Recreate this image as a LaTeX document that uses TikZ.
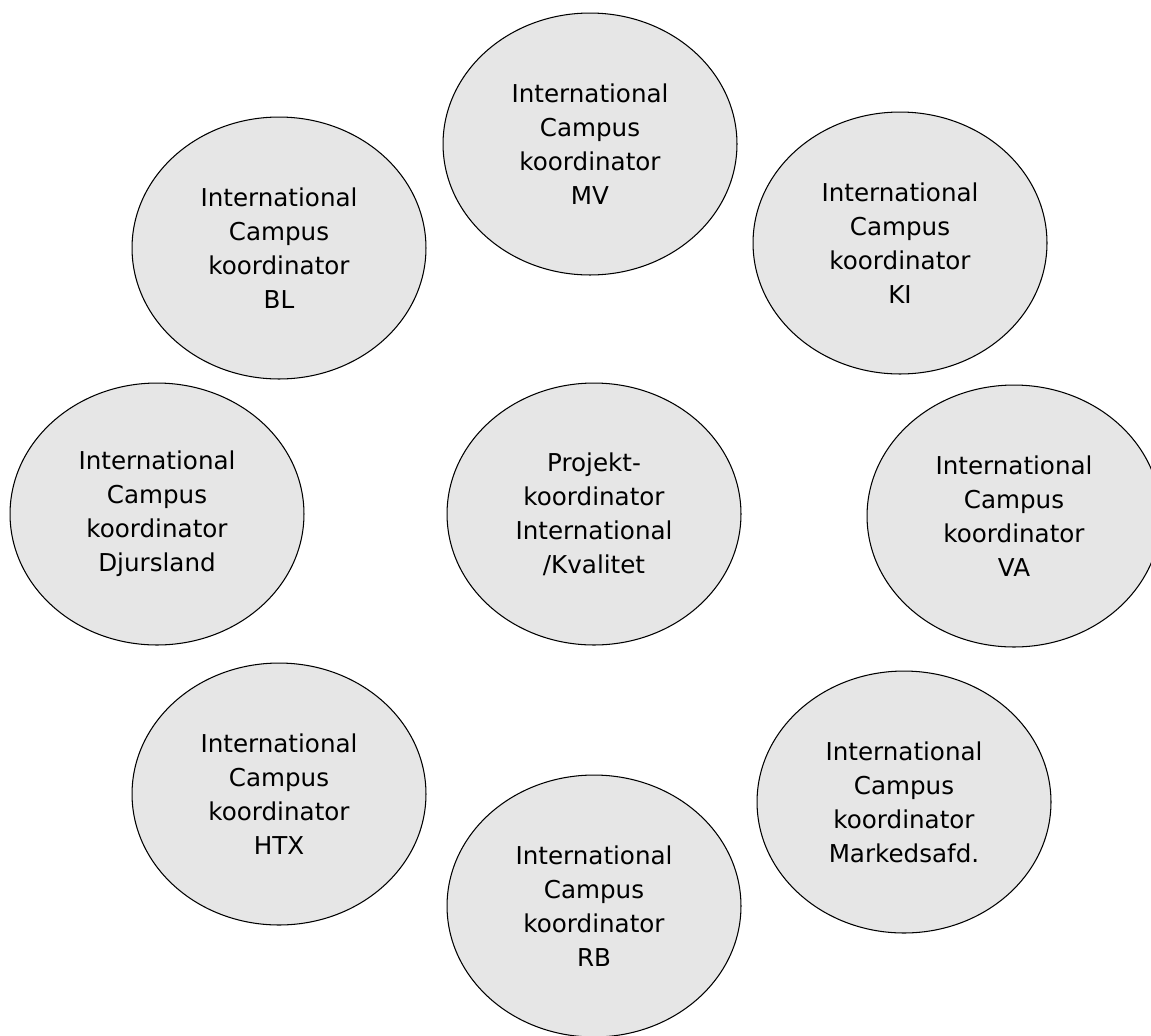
\documentclass[tikz,border=0pt]{standalone}
\usepackage{fontspec}
\setmainfont{DejaVu Sans}
\usepackage{tikz}
\usetikzlibrary{shapes.geometric}
\usepackage{xcolor}
\definecolor{bubble}{HTML}{E6E6E6}

\begin{document}
\begin{tikzpicture}[
  x=0.02cm, y=-0.02cm,
  campus/.style={ellipse, draw, fill=bubble, line width=0.6pt, align=center, inner sep=0pt,
    minimum width=5.88cm, minimum height=5.24cm, font=\fontsize{14}{19.4}\selectfont}
]
\clip (0,0) rectangle (1151,1035);
\node[campus] (mv) at (590,144) {International\\Campus\\koordinator\\MV};
\node[campus] (bl) at (279,248) {International\\Campus\\koordinator\\BL};
\node[campus] (ki) at (900,243) {International\\Campus\\koordinator\\KI};
\node[campus] (dj) at (157,514) {International\\Campus\\koordinator\\Djursland};
\node[campus] (pk) at (594,514) {Projekt-\\koordinator\\International\\/Kvalitet};
\node[campus] (va) at (1014,516) {International\\Campus\\koordinator\\VA};
\node[campus] (htx) at (279,794) {International\\Campus\\koordinator\\HTX};
\node[campus] (mk) at (904,802) {International\\Campus\\koordinator\\Markedsafd.};
\node[campus] (rb) at (594,906) {International\\Campus\\koordinator\\RB};
\end{tikzpicture}
\end{document}
